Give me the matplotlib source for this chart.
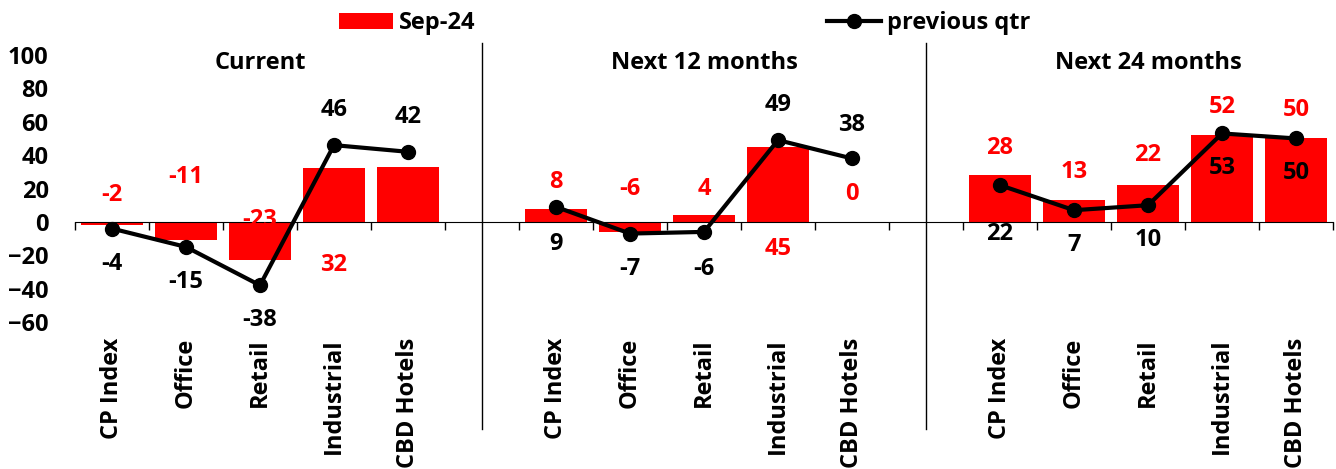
import numpy as np
import matplotlib
matplotlib.use("Agg")
import matplotlib.pyplot as plt
from matplotlib.lines import Line2D

plt.rcParams['font.family'] = ['Open Sans', 'DejaVu Sans']
plt.rcParams['font.weight'] = 'bold'

# data
groups = ['Current', 'Next 12 months', 'Next 24 months']
sectors = ['CP Index', 'Office', 'Retail', 'Industrial', 'CBD Hotels']
sep24 = [[-2, -11, -23, 32, 33],
         [8, -6, 4, 45, 0],
         [28, 13, 22, 52, 50]]
prev_qtr = [[-4, -15, -38, 46, 42],
            [9, -7, -6, 49, 38],
            [22, 7, 10, 53, 50]]

# label offsets (data units) as placed in the original
bar_dy = [[18, 38, 24, -58, -18],
          [16, 26, 16, -61, 17],
          [16, 17, 18, 17, 17]]
line_dy = [[-21, -21, -21, 21, 21],
           [-22, -21, -22, 21, 20],
           [-29, -21, -21, -21, -21]]

RED = '#ff0000'
FS = 17

# x positions: 5 per group, one blank slot between groups
xs, bars = [], []
for g in range(len(groups)):
    for i in range(len(sectors)):
        xs.append(g * 6 + i)
        bars.append(sep24[g][i])
xs = np.array(xs)

fig = plt.figure(figsize=(13.36, 4.69), dpi=100)
ax = fig.add_axes([0.0561, 0.3134, 0.9417, 0.5693])

bar_h = ax.bar(xs, bars, width=0.84, color=RED, zorder=2)

# line broken between the groups
for g in range(len(groups)):
    gx = xs[g * 5:(g + 1) * 5]
    line_h, = ax.plot(gx, prev_qtr[g], color='black', lw=3, marker='o', ms=10, zorder=3)

# data labels
for g in range(len(groups)):
    for i in range(len(sectors)):
        x = g * 6 + i
        ax.text(x, sep24[g][i] + bar_dy[g][i], str(sep24[g][i]), color=RED,
                ha='center', va='center', fontsize=FS, fontweight='bold', zorder=5)
        ax.text(x, prev_qtr[g][i] + line_dy[g][i], str(prev_qtr[g][i]), color='black',
                ha='center', va='center', fontsize=FS, fontweight='bold', zorder=5)

# group titles
for g, name in enumerate(groups):
    ax.text(g * 6 + 2, 95, name, ha='center', va='center', fontsize=FS, fontweight='bold')

# dividers between groups
for g in range(1, len(groups)):
    ax.add_line(Line2D([g * 6 - 1, g * 6 - 1], [-0.40, 1.045], color='black', lw=1,
                       transform=ax.get_xaxis_transform(), clip_on=False))

ax.set_xlim(-0.5, 16.5)
ax.set_ylim(-60, 100)
ax.set_yticks(np.arange(-60, 101, 20))
ax.tick_params(axis='y', length=0, pad=19, labelsize=FS)
for lab in ax.get_yticklabels():
    lab.set_fontweight('bold')

ax.spines['bottom'].set_position(('data', 0))
ax.spines['left'].set_visible(False)
ax.spines['top'].set_visible(False)
ax.spines['right'].set_visible(False)
ax.set_xticks(np.arange(-0.5, 17, 1))
ax.set_xticklabels([])
ax.tick_params(axis='x', direction='out', length=6, width=1)

# category labels below the plot area
for g in range(len(groups)):
    for i, s in enumerate(sectors):
        ax.text(g * 6 + i, -0.06, s, rotation=90, ha='center', va='top',
                fontsize=FS, fontweight='bold', transform=ax.get_xaxis_transform())

fig.legend([bar_h, line_h], ['Sep-24', 'previous qtr'], loc='center',
           bbox_to_anchor=(0.5125, 0.95), ncol=2, frameon=False,
           handlelength=2.3, columnspacing=14.9, handletextpad=0.25,
           prop={'weight': 'bold', 'size': FS})

fig.savefig('out.png', dpi=100)
